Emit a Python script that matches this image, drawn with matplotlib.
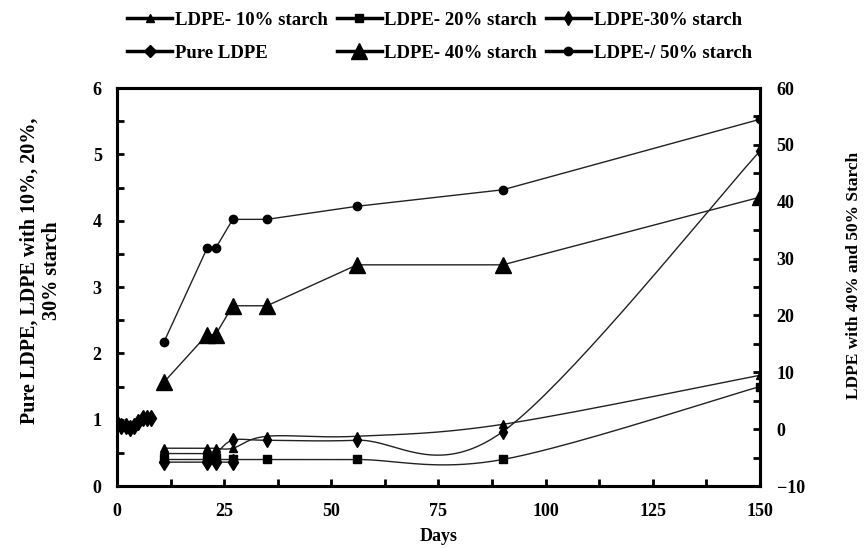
import numpy as np
import matplotlib
matplotlib.use('Agg')
import matplotlib.pyplot as plt
from matplotlib.ticker import MultipleLocator

plt.rcParams['font.family'] = ['Liberation Serif', 'DejaVu Serif']
plt.rcParams['font.weight'] = 'bold'

# ---- data (left axis) ----
pure_days = [0, 1, 2, 3, 4, 5, 6, 7, 8, np.nan, 11, 21, 23, 27]
pure_vals = [0.95, 0.90, 0.90, 0.88, 0.90, 0.97, 1.02, 1.02, 1.02, np.nan, 0.36, 0.36, 0.36, 0.36]

days8 = [11, 21, 23, 27, 35, 56, 90, 150]
ldpe10 = [0.57, 0.57, 0.57, 0.57, 0.75, 0.75, 0.93, 1.67]
ldpe20 = [0.40, 0.40, 0.40, 0.40, 0.40, 0.40, 0.40, 1.50]
ldpe30 = [0.49, 0.49, 0.49, 0.69, 0.69, 0.69, 0.82, 5.05]

# ---- data (right axis) ----
ldpe40 = [8.3, 16.6, 16.6, 21.7, 21.7, 28.9, 28.9, 40.8]
ldpe50 = [15.4, 31.8, 31.8, 36.9, 36.9, 39.2, 42.1, 54.5]

XMAX, YMAX = 150, 6


def excel_smooth(x, y, n=40):
    # Excel-style smoothed line: cubic bezier, tangents (P[i+1]-P[i-1])/6
    sx, sy = 643 / XMAX, 398 / YMAX
    P = np.column_stack([np.asarray(x, float) * sx, np.asarray(y, float) * sy])
    pts = []
    t = np.linspace(0, 1, n)[:, None]
    for i in range(len(P) - 1):
        p0 = P[i - 1] if i > 0 else P[i]
        p1, p2 = P[i], P[i + 1]
        p3 = P[i + 2] if i + 2 < len(P) else P[i + 1]
        c1 = p1 + (p2 - p0) / 6
        c2 = p2 - (p3 - p1) / 6
        seg = (1 - t) ** 3 * p1 + 3 * (1 - t) ** 2 * t * c1 + 3 * (1 - t) * t ** 2 * c2 + t ** 3 * p2
        pts.append(seg if i == 0 else seg[1:])
    pts = np.vstack(pts)
    return pts[:, 0] / sx, pts[:, 1] / sy


fig = plt.figure(figsize=(8.64, 5.48), dpi=100)
ax = fig.add_axes([0.1354, 0.1131, 0.7442, 0.7263])
ax2 = ax.twinx()

lc = '#222222'
lw = 1.0

# smoothed lines, markers on top
for vals, mk, ms in [(ldpe10, '^', 6), (ldpe20, 's', 6), (ldpe30, 'd', 7)]:
    xs, ys = excel_smooth(days8, vals)
    ax.plot(xs, ys, color=lc, lw=lw, zorder=2)
    ax.plot(days8, vals, ls='none', marker=mk, ms=ms, color='black', zorder=3)

h10, = ax.plot([], [], color='black', lw=2.5, marker='^', ms=6)
h20, = ax.plot([], [], color='black', lw=2.5, marker='s', ms=6)
h30, = ax.plot([], [], color='black', lw=2.5, marker='d', ms=7)
ax.plot(pure_days, pure_vals, color=lc, lw=lw, marker='d', ms=8, mfc='black', mec='black')
hp, = ax.plot([], [], color='black', lw=2.5, marker='D', ms=6)

ax2.plot(days8, ldpe40, color=lc, lw=lw, marker='^', ms=11, mfc='black', mec='black')
ax2.plot(days8, ldpe50, color=lc, lw=lw, marker='o', ms=6, mfc='black', mec='black')
h40, = ax2.plot([], [], color='black', lw=2.5, marker='^', ms=11)
h50, = ax2.plot([], [], color='black', lw=2.5, marker='o', ms=6)

ax.set_xlim(0, XMAX)
ax.set_ylim(0, YMAX)
ax2.set_ylim(-10, 60)

ax.xaxis.set_major_locator(MultipleLocator(25))
ax.xaxis.set_minor_locator(MultipleLocator(12.5))
ax.yaxis.set_major_locator(MultipleLocator(1))
ax.yaxis.set_minor_locator(MultipleLocator(0.5))
ax2.yaxis.set_major_locator(MultipleLocator(10))
ax2.yaxis.set_minor_locator(MultipleLocator(5))

ax.tick_params(axis='x', which='both', direction='in', length=5, width=2, pad=12, labelsize=13)
ax.tick_params(axis='y', which='both', direction='in', length=5, width=2, pad=11, labelsize=13)
ax2.tick_params(axis='y', which='both', direction='in', length=5, width=2, pad=12, labelsize=13)

for a in (ax, ax2):
    for s in a.spines.values():
        s.set_linewidth(2.2)

ax.set_xlabel('Days', fontsize=13, fontweight='bold', labelpad=6)
ax.set_ylabel('Pure LDPE, LDPE with 10%, 20%,\n30% starch', fontsize=14.5,
              fontweight='bold', labelpad=22, linespacing=1.2)
ax.yaxis.label.set_y(0.54)
ax2.set_ylabel('LDPE with 40% and 50% Starch', fontsize=12.5, fontweight='bold', labelpad=30)
ax2.yaxis.label.set_y(0.53)

handles = [h10, hp, h20, h40, h30, h50]
labels = ['LDPE- 10% starch', 'Pure LDPE', 'LDPE- 20% starch',
          'LDPE- 40% starch', 'LDPE-30% starch', 'LDPE-/ 50% starch']
fig.legend(handles, labels, ncol=3, loc='upper left',
           bbox_to_anchor=(0.128, 1.01), frameon=False, fontsize=13.5,
           handlelength=2.4, handletextpad=0.15, columnspacing=0.45, labelspacing=0.85)

fig.savefig('out.png', dpi=100)
